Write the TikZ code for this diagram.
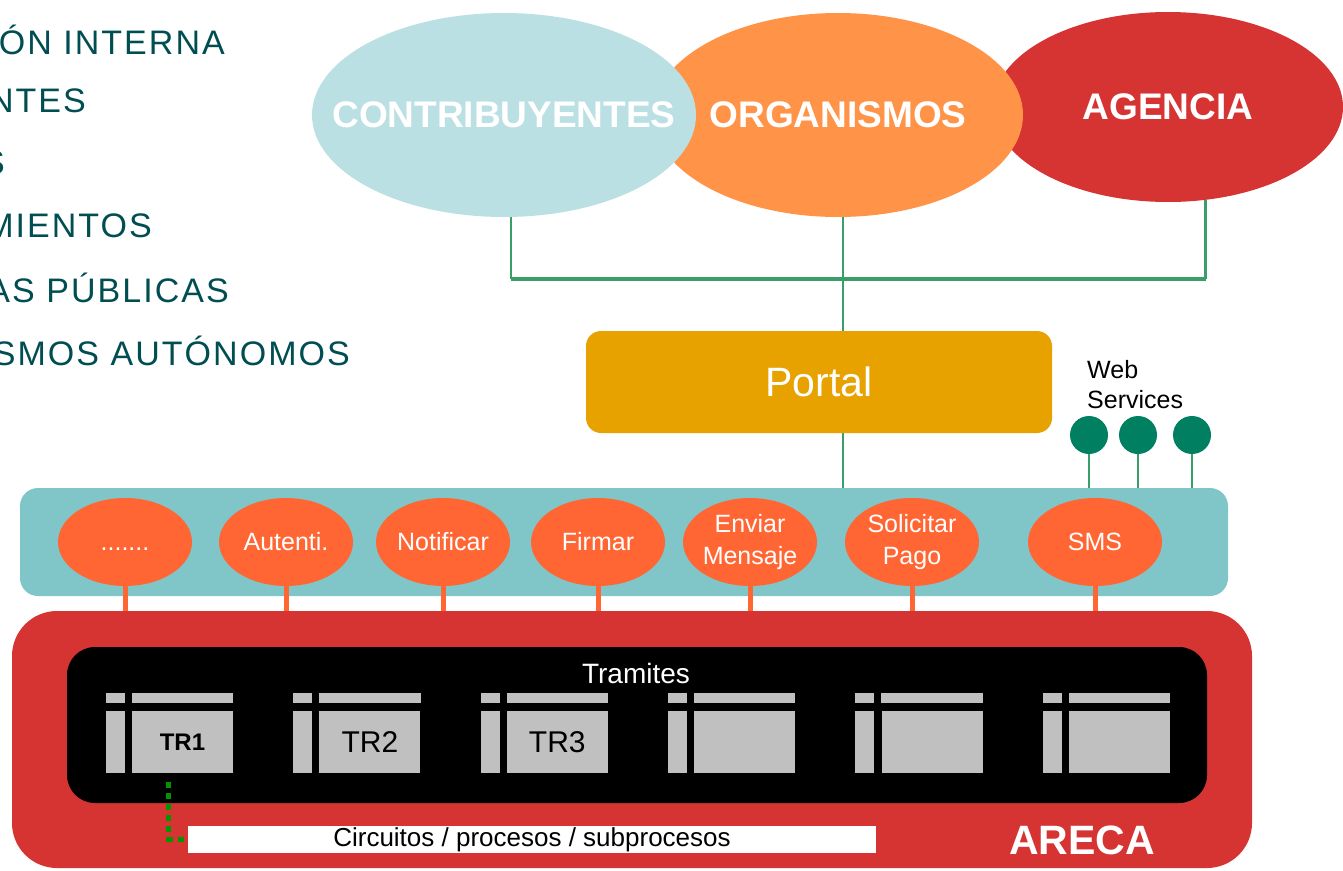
\documentclass[tikz,border=0pt]{standalone}
\usepackage{fontspec}
\setmainfont{Liberation Sans}
\newfontfamily\sidefont[LetterSpace=6]{Liberation Sans}
\usepackage{tikz}
\usetikzlibrary{shapes,arrows,positioning,calc}

\definecolor{contribblue}{RGB}{187,224,227}
\definecolor{organorange}{RGB}{255,148,72}
\definecolor{agencyred}{RGB}{214,51,51}
\definecolor{portalgold}{RGB}{232,162,0}
\definecolor{busblue}{RGB}{128,198,200}
\definecolor{svcorange}{RGB}{255,102,51}
\definecolor{trgray}{RGB}{192,192,192}
\definecolor{wsgreen}{RGB}{0,128,96}
\definecolor{linkgreen}{RGB}{58,158,106}
\definecolor{dotgreen}{RGB}{0,150,0}
\definecolor{sideteal}{RGB}{0,77,82}

\begin{document}
\begin{tikzpicture}[
    x=1pt, y=1pt,
    bigoval/.style={ellipse, minimum width=384, minimum height=204, inner sep=0},
    bigtext/.style={text=white, inner sep=0, font=\fontsize{37}{40}\selectfont\bfseries},
    svc/.style={ellipse, fill=svcorange, minimum width=134, minimum height=88, inner sep=0},
    svctext/.style={text=white, align=center, inner sep=0, font=\fontsize{25}{32}\selectfont},
    sidetext/.style={anchor=east, text=sideteal, inner sep=0, font=\sidefont\fontsize{34}{40}\selectfont},
    wsball/.style={circle, fill=wsgreen, minimum size=38, inner sep=0},
    trbox/.style={rectangle, fill=trgray, minimum width=101, minimum height=62, inner sep=0,
        append after command={\pgfextra{
            \fill[trgray] ($(\tikzlastnode.north west)+(0,8)$) rectangle ($(\tikzlastnode.north east)+(0,18)$);
            \fill[trgray] ($(\tikzlastnode.north west)+(-26,8)$) rectangle ($(\tikzlastnode.north west)+(-7,18)$);
            \fill[trgray] ($(\tikzlastnode.north west)+(-26,0)$) rectangle ($(\tikzlastnode.south west)+(-7,0)$);
        }}},
    linkline/.style={draw=linkgreen, line width=2.5},
    busline/.style={draw=linkgreen, line width=4},
    svclink/.style={draw=svcorange, line width=5},
    dotlink/.style={draw=dotgreen, line width=5, dash pattern=on 6pt off 5pt}
]
\useasboundingbox (0,0) rectangle (1343,-870);
\clip (0,0) rectangle (1343,-870);

% Side list (cut at the left edge)
\node[sidetext] (side_one) at (225,-40) {ÓN INTERNA};
\node[sidetext] (side_two) at (86,-101) {NTES};
\node[sidetext] (side_three) at (5,-163) {S};
\node[sidetext] (side_four) at (152,-226) {MIENTOS};
\node[sidetext] (side_five) at (229,-288) {AS PÚBLICAS};
\node[sidetext] (side_six) at (350,-351) {SMOS AUTÓNOMOS};

% Actors
\node[bigoval, fill=agencyred, minimum width=350, minimum height=190,
      label={[bigtext]center:AGENCIA}] (agencia) at (1168,-107) {};
\node[bigoval, fill=organorange, minimum width=370,
      label={[bigtext]center:ORGANISMOS}] (organismos) at (838,-115) {};
\node[bigoval, fill=contribblue,
      label={[bigtext]center:CONTRIBUYENTES}] (contrib) at (504,-115) {};

% Portal
\node[rectangle, rounded corners=15, fill=portalgold, minimum width=466, minimum height=102,
      text=white, font=\fontsize{41}{45}\selectfont] (portal) at (819,-382) {Portal};

% Web services
\node[anchor=west, align=left, inner sep=0, font=\fontsize{25}{30}\selectfont] (ws_label) at (1087,-385) {Web\\Services};
\node[wsball] (ws_a) at (1089,-435) {};
\node[wsball] (ws_b) at (1138,-435) {};
\node[wsball] (ws_c) at (1192,-435) {};

% Service bar
\node[rectangle, rounded corners=18, fill=busblue, minimum width=1208, minimum height=108] (bus_bar) at (624,-542) {};
\node[svc, label={[svctext, yshift=-7]center:.......}] (svc_dots) at (125,-542) {};
\node[svc, label={[svctext]center:Autenti.}] (svc_autenti) at (286,-542) {};
\node[svc, label={[svctext]center:Notificar}] (svc_notificar) at (443,-542) {};
\node[svc, label={[svctext]center:Firmar}] (svc_firmar) at (598,-542) {};
\node[svc, label={[svctext]center:Enviar\\Mensaje}] (svc_enviar) at (750,-542) {};
\node[svc, label={[svctext]center:Solicitar\\Pago}] (svc_pago) at (912,-542) {};
\node[svc, label={[svctext]center:SMS}] (svc_sms) at (1095,-542) {};

% ARECA
\node[rectangle, rounded corners=45, fill=agencyred, minimum width=1240, minimum height=257] (areca_box) at (632,-739.5) {};
\node[rectangle, rounded corners=28, fill=black, minimum width=1140, minimum height=156] (tramites_box) at (637,-725) {};
\node[text=white, font=\fontsize{28}{30}\selectfont] (tramites_label) at (636,-673) {Tramites};

% Tramites
\node[trbox, font=\fontsize{24}{28}\selectfont\bfseries] (tr1) at (182.5,-742) {TR1};
\node[trbox, font=\fontsize{30}{34}\selectfont] (tr2) at (369.9,-742) {TR2};
\node[trbox, font=\fontsize{30}{34}\selectfont] (tr3) at (557.3,-742) {TR3};
\node[trbox] (tr4) at (744.7,-742) {};
\node[trbox] (tr5) at (932.1,-742) {};
\node[trbox] (tr6) at (1119.5,-742) {};

\node[rectangle, fill=white, minimum width=688, minimum height=27, inner sep=0,
      font=\fontsize{26}{28}\selectfont] (circuitos) at (532,-839.5) {Circuitos / procesos / subprocesos};
\node[text=white, font=\fontsize{41}{45}\selectfont\bfseries] (areca_label) at (1082,-840) {ARECA};

% Actor links
\coordinate (bus_y) at (0,-279);
\draw[linkline] ([xshift=7]contrib.south) -- ([xshift=7]contrib.south |- bus_y);
\draw[linkline] (agencia.-68) -- (agencia.-68 |- bus_y);
\draw[busline] ([xshift=7]contrib.south |- bus_y) -- (agencia.-68 |- bus_y);
\draw[linkline] ([xshift=5]organismos.south) -- ([xshift=5]organismos.south |- portal.north);
\draw[linkline] ([xshift=5]portal.south -| organismos.south) -- ([xshift=5]organismos.south |- bus_bar.north);

% Web service links
\draw[linkline] (ws_a.south) -- (ws_a.south |- bus_bar.north);
\draw[linkline] (ws_b.south) -- (ws_b.south |- bus_bar.north);
\draw[linkline] (ws_c.south) -- (ws_c.south |- bus_bar.north);

% Service links
\draw[svclink] (svc_dots.south) -- (svc_dots.south |- areca_box.north);
\draw[svclink] (svc_autenti.south) -- (svc_autenti.south |- areca_box.north);
\draw[svclink] (svc_notificar.south) -- (svc_notificar.south |- areca_box.north);
\draw[svclink] (svc_firmar.south) -- (svc_firmar.south |- areca_box.north);
\draw[svclink] (svc_enviar.south) -- (svc_enviar.south |- areca_box.north);
\draw[svclink] (svc_pago.south) -- (svc_pago.south |- areca_box.north);
\draw[svclink] (svc_sms.south) -- (svc_sms.south |- areca_box.north);

% Process link
\draw[dotlink, shorten <=9pt] ([xshift=37]tr1.south west) |- (circuitos.west);

\end{tikzpicture}
\end{document}
